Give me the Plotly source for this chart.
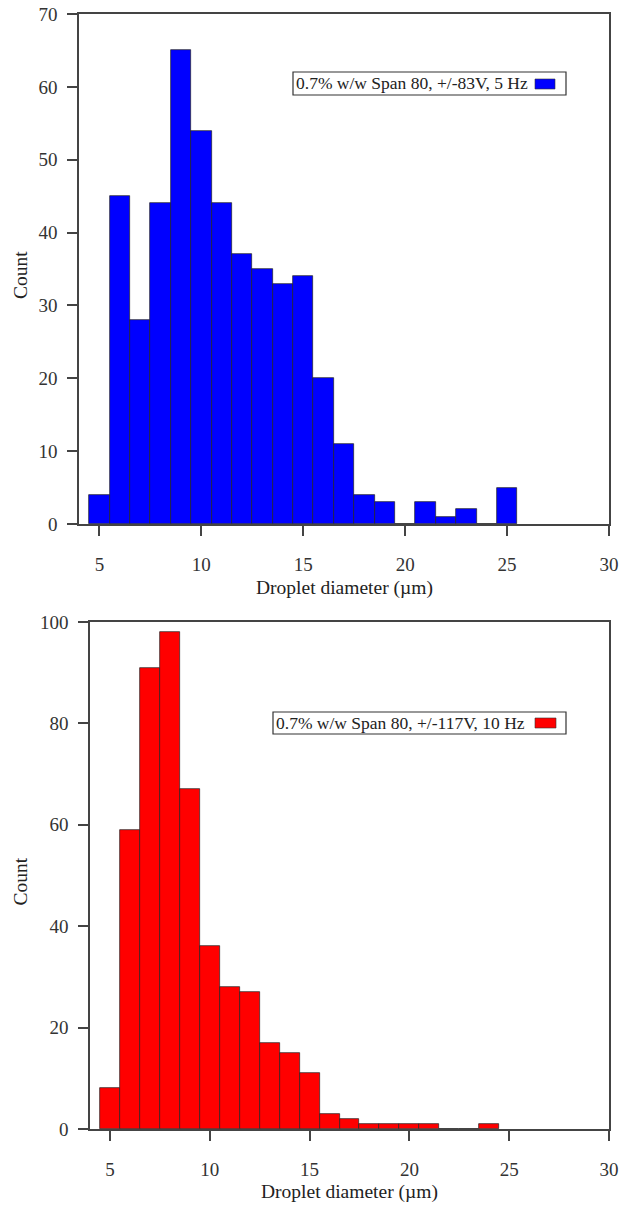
import plotly.graph_objects as go

# ---------------- data ----------------
diam_top = [5, 6, 7, 8, 9, 10, 11, 12, 13, 14, 15, 16, 17, 18, 19, 20, 21, 22, 23, 24, 25]
count_top = [4, 45, 28, 44, 65, 54, 44, 37, 35, 33, 34, 20, 11, 4, 3, 0, 3, 1, 2, 0, 5]
label_top = "0.7% w/w Span 80, +/-83V, 5 Hz"

diam_bot = [5, 6, 7, 8, 9, 10, 11, 12, 13, 14, 15, 16, 17, 18, 19, 20, 21, 22, 23, 24]
count_bot = [8, 59, 91, 98, 67, 36, 28, 27, 17, 15, 11, 3, 2, 1, 1, 1, 1, 0, 0, 1]
label_bot = "0.7% w/w Span 80, +/-117V, 10 Hz"

x_ticks = [5, 10, 15, 20, 25, 30]
x_title = "Droplet diameter (µm)"
y_title = "Count"

# ---------------- layout helpers ----------------
W, H = 621, 1207
def px(x):
    return x / W
def py(y):
    return 1 - y / H

FONT = "Liberation Serif, Times New Roman, serif"
AX = "#444444"
fs = 19

fig = go.Figure()
fig.add_trace(go.Bar(x=diam_top, y=count_top, width=1, xaxis="x", yaxis="y",
                     marker=dict(color="#0000FF", line=dict(color="#222222", width=0.7)),
                     showlegend=False))
fig.add_trace(go.Bar(x=diam_bot, y=count_bot, width=1, xaxis="x2", yaxis="y2",
                     marker=dict(color="#FF0000", line=dict(color="#222222", width=0.7)),
                     showlegend=False))

common_x = dict(range=[4, 30], tickvals=x_ticks, ticks="outside", ticklen=10, tickwidth=1.5,
                tickcolor=AX, showline=True, mirror=True, linecolor=AX, linewidth=1.5,
                showgrid=False, zeroline=False, ticklabelstandoff=12, automargin=False,
                tickfont=dict(family=FONT, size=fs, color="#333"))
common_y = dict(ticks="outside", ticklen=10, tickwidth=1.5, tickcolor=AX, showline=True,
                mirror=True, linecolor=AX, linewidth=1.5, showgrid=False, zeroline=False,
                ticklabelstandoff=6, automargin=False,
                tickfont=dict(family=FONT, size=fs, color="#333"))

top = dict(l=79, r=609, t=14, b=524)
bot = dict(l=90, r=609, t=622, b=1129)

fig.update_layout(
    width=W, height=H, margin=dict(l=0, r=0, t=0, b=0, autoexpand=False),
    paper_bgcolor="white", plot_bgcolor="white", bargap=0,
    xaxis=dict(domain=[px(top["l"]), px(top["r"])], anchor="y", **common_x),
    yaxis=dict(domain=[py(top["b"]), py(top["t"])], anchor="x", range=[0, 70], dtick=10, **common_y),
    xaxis2=dict(domain=[px(bot["l"]), px(bot["r"])], anchor="y2", **common_x),
    yaxis2=dict(domain=[py(bot["b"]), py(bot["t"])], anchor="x2", range=[0, 100], dtick=20, **common_y),
)

# axis titles
for p, ycen in ((top, 588), (bot, 1192)):
    fig.add_annotation(text=x_title, xref="paper", yref="paper", x=px((p["l"] + p["r"]) / 2),
                       y=py(ycen), xanchor="center", yanchor="middle", showarrow=False,
                       font=dict(family=FONT, size=19.5, color="#222"))
    fig.add_annotation(text=y_title, xref="paper", yref="paper", x=px(20),
                       y=py((p["t"] + p["b"]) / 2 + 6), xanchor="center", yanchor="middle",
                       textangle=-90, showarrow=False, font=dict(family=FONT, size=19.5, color="#222"))

# legend boxes (drawn manually: label then swatch on the right)
legends = [
    (label_top, "#0000FF", (293, 72, 566, 95), (535, 79, 555, 89)),
    (label_bot, "#FF0000", (273, 712, 566, 734), (535, 718, 556, 728)),
]
for text, col, box, sw in legends:
    fig.add_shape(type="rect", xref="paper", yref="paper", x0=px(box[0]), x1=px(box[2]),
                  y0=py(box[3]), y1=py(box[1]), line=dict(color="#333", width=1.2),
                  fillcolor="white", layer="above")
    fig.add_shape(type="rect", xref="paper", yref="paper", x0=px(sw[0]), x1=px(sw[2]),
                  y0=py(sw[3]), y1=py(sw[1]), line=dict(color="#333", width=0.6),
                  fillcolor=col, layer="above")
    fig.add_annotation(text=text, xref="paper", yref="paper", x=px(box[0] + 1),
                       y=py((box[1] + box[3]) / 2), xanchor="left", yanchor="middle",
                       showarrow=False, font=dict(family=FONT, size=17.5, color="#222"))

fig.write_html("out.html", config={"displayModeBar": False},
               post_script="document.body.style.margin='0';")
